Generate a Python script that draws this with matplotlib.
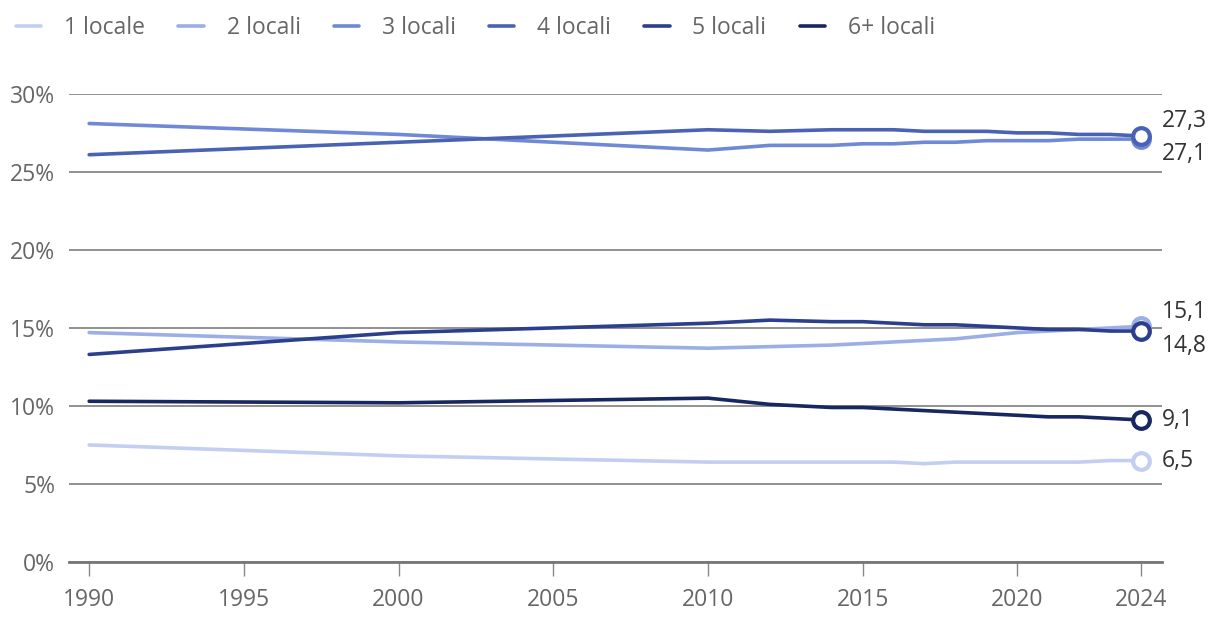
import matplotlib.pyplot as plt
from matplotlib.ticker import FuncFormatter

plt.rcParams['font.family'] = ['Open Sans', 'DejaVu Sans']

# ===== DATA =====
years = [1990, 2000, 2010, 2012, 2014, 2015, 2016, 2017, 2018, 2019, 2020, 2021, 2022, 2023, 2024]
labels = ["1 locale", "2 locali", "3 locali", "4 locali", "5 locali", "6+ locali"]
loc1 = [7.5, 6.8, 6.4, 6.4, 6.4, 6.4, 6.4, 6.3, 6.4, 6.4, 6.4, 6.4, 6.4, 6.5, 6.5]
loc2 = [14.7, 14.1, 13.7, 13.8, 13.9, 14.0, 14.1, 14.2, 14.3, 14.5, 14.7, 14.8, 14.9, 15.0, 15.1]
loc3 = [28.1, 27.4, 26.4, 26.7, 26.7, 26.8, 26.8, 26.9, 26.9, 27.0, 27.0, 27.0, 27.1, 27.1, 27.1]
loc4 = [26.1, 26.9, 27.7, 27.6, 27.7, 27.7, 27.7, 27.6, 27.6, 27.6, 27.5, 27.5, 27.4, 27.4, 27.3]
loc5 = [13.3, 14.7, 15.3, 15.5, 15.4, 15.4, 15.3, 15.2, 15.2, 15.1, 15.0, 14.9, 14.9, 14.8, 14.8]
loc6 = [10.3, 10.2, 10.5, 10.1, 9.9, 9.9, 9.8, 9.7, 9.6, 9.5, 9.4, 9.3, 9.3, 9.2, 9.1]
series = [loc1, loc2, loc3, loc4, loc5, loc6]
colors = ["#c3cff2", "#9bafe6", "#6f89d6", "#4a62b3", "#2b3f8c", "#17275f"]
# label offset (points) for end values: above / below / centred
label_dy = [0, 10, -11, 11, -11, 0]

xticks = [1990, 1995, 2000, 2005, 2010, 2015, 2020, 2024]
yticks = [0, 5, 10, 15, 20, 25, 30]

fig = plt.figure(figsize=(12.2, 6.3), dpi=100)
ax = fig.add_axes([0.0566, 0.108, 0.896, 0.743])

for vals, col, lab in zip(series, colors, labels):
    ax.plot(years, vals, color=col, lw=2.6, label=lab, solid_capstyle='round', zorder=3)

for vals, col, dy in zip(series, colors, label_dy):
    ax.plot(years[-1], vals[-1], 'o', ms=12, mfc='white', mec=col, mew=3, zorder=4)
    ax.annotate(f"{vals[-1]:.1f}".replace('.', ','), (years[-1], vals[-1]),
                xytext=(15, dy), textcoords='offset points', va='center', ha='left',
                fontsize=16.5, color='#333333', annotation_clip=False)

ax.set_xlim(1989.35, 2024.68)
ax.set_ylim(0, 30)
ax.set_xticks(xticks)
ax.set_yticks(yticks)
ax.yaxis.set_major_formatter(FuncFormatter(lambda v, p: f"{v:.0f}%"))
ax.grid(axis='y', color='#888888', lw=1.3, zorder=1)
for s in ['top', 'right', 'left']:
    ax.spines[s].set_visible(False)
ax.spines['bottom'].set_color('#777777')
ax.spines['bottom'].set_linewidth(2)
ax.spines['bottom'].set_zorder(2)
ax.tick_params(axis='y', length=0, labelsize=16.5, labelcolor='#666666', pad=10)
ax.tick_params(axis='x', length=10, width=1, color='#888888', labelsize=16.5,
               labelcolor='#666666', pad=9)

fig.legend(loc='upper left', bbox_to_anchor=(0.0, 1.0), ncol=6, frameon=False,
           fontsize=16.5, labelcolor='#666666', handlelength=1.1, handletextpad=1.0,
           columnspacing=1.45, borderaxespad=0.3)

plt.savefig("out.png", dpi=100)
